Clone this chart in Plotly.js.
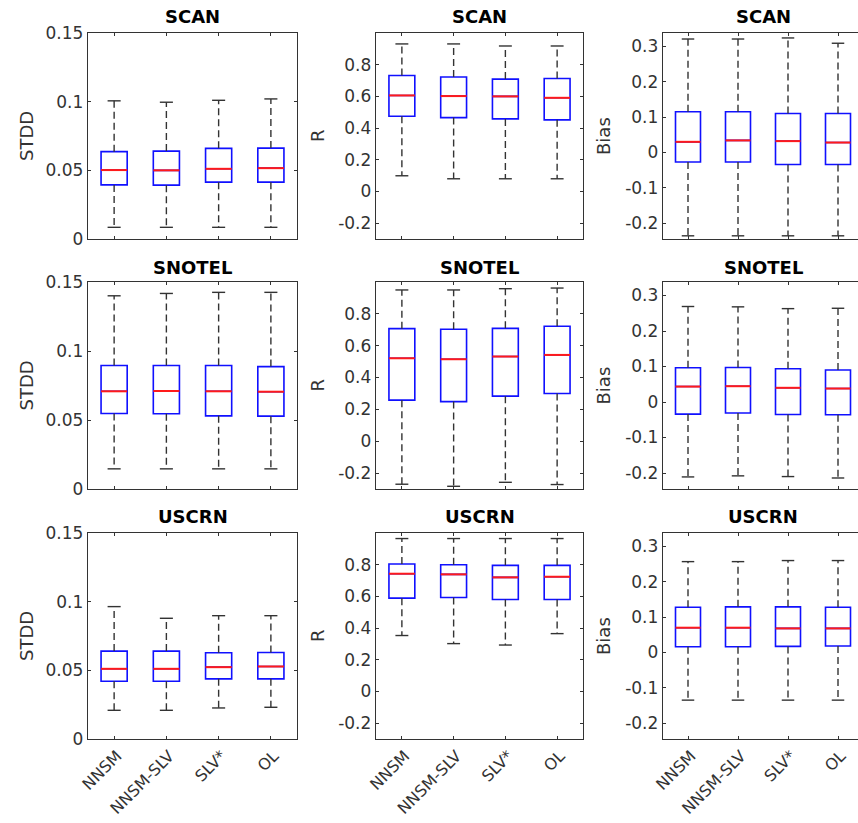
<!DOCTYPE html>
<html><head><meta charset="utf-8">
<script src="https://cdn.plot.ly/plotly-3.0.1.min.js"></script>
<style>html,body{margin:0;padding:0;background:#fff}#chart{width:858px;height:823px}</style>
</head><body><div id="chart"></div>
<script>
const categories = ['NNSM', 'NNSM-SLV', 'SLV*', 'OL'];
const networks = ['SCAN', 'SNOTEL', 'USCRN'];
const metrics = ['STDD', 'R', 'Bias'];

// box statistics per category: lower whisker, q1, median, q3, upper whisker
const scanStdd = {lower: [0.0085, 0.0085, 0.0085, 0.0085], q1: [0.0394, 0.0392, 0.0414, 0.0414], median: [0.0502, 0.0500, 0.0511, 0.0516], q3: [0.0636, 0.0640, 0.0660, 0.0662], upper: [0.1006, 0.0996, 0.1010, 0.1020]};
const scanR = {lower: [0.099, 0.080, 0.080, 0.080], q1: [0.475, 0.466, 0.458, 0.452], median: [0.606, 0.602, 0.600, 0.591], q3: [0.732, 0.722, 0.709, 0.713], upper: [0.931, 0.931, 0.918, 0.918]};
const scanBias = {lower: [-0.236, -0.236, -0.236, -0.236], q1: [-0.027, -0.027, -0.034, -0.034], median: [0.030, 0.034, 0.032, 0.028], q3: [0.115, 0.115, 0.110, 0.110], upper: [0.321, 0.321, 0.324, 0.309]};
const snotelStdd = {lower: [0.0146, 0.0146, 0.0146, 0.0146], q1: [0.0547, 0.0545, 0.0530, 0.0528], median: [0.0708, 0.0710, 0.0708, 0.0705], q3: [0.0895, 0.0895, 0.0895, 0.0887], upper: [0.1400, 0.1417, 0.1425, 0.1425]};
const snotelR = {lower: [-0.270, -0.283, -0.258, -0.272], q1: [0.258, 0.249, 0.283, 0.300], median: [0.521, 0.515, 0.532, 0.542], q3: [0.707, 0.703, 0.709, 0.722], upper: [0.950, 0.950, 0.958, 0.962]};
const snotelBias = {lower: [-0.211, -0.208, -0.210, -0.214], q1: [-0.034, -0.031, -0.035, -0.036], median: [0.0435, 0.0445, 0.040, 0.038], q3: [0.0965, 0.0974, 0.0937, 0.090], upper: [0.269, 0.268, 0.263, 0.264]};
const uscrnStdd = {lower: [0.0209, 0.0209, 0.0226, 0.0231], q1: [0.0421, 0.0421, 0.0438, 0.0438], median: [0.0511, 0.0511, 0.0523, 0.0528], q3: [0.0640, 0.0640, 0.0628, 0.0630], upper: [0.0964, 0.0879, 0.0898, 0.0898]};
const uscrnR = {lower: [0.353, 0.302, 0.293, 0.365], q1: [0.589, 0.593, 0.580, 0.580], median: [0.743, 0.739, 0.720, 0.724], q3: [0.804, 0.800, 0.796, 0.796], upper: [0.965, 0.965, 0.965, 0.965]};
const uscrnBias = {lower: [-0.135, -0.135, -0.135, -0.135], q1: [0.016, 0.016, 0.017, 0.018], median: [0.070, 0.070, 0.068, 0.068], q3: [0.128, 0.129, 0.129, 0.128], upper: [0.257, 0.257, 0.260, 0.260]};

const panels = [
  [scanStdd, scanR, scanBias],
  [snotelStdd, snotelR, snotelBias],
  [uscrnStdd, uscrnR, uscrnBias]
];

// y-axis tick values / labels per metric column
const yTickVals = [[0, 0.05, 0.1, 0.15], [-0.2, 0, 0.2, 0.4, 0.6, 0.8], [-0.2, -0.1, 0, 0.1, 0.2, 0.3]];
const yTickText = [['0', '0.05', '0.1', '0.15'], ['-0.2', '0', '0.2', '0.4', '0.6', '0.8'], ['-0.2', '-0.1', '0', '0.1', '0.2', '0.3']];

// ---- layout geometry (pixels) ----
const W = 858, H = 823;
const colLeft = [88, 376, 663], colRight = [297, 583, 858], colFullRight = [297, 583, 863];
const rowTop = [33, 282, 533], rowBottom = [239, 489, 739];
const yRanges = [[0, 0.15], [-0.3, 1.0], [-0.245, 0.338]];
const yTitleX = [26, 317, 603];
const titleY = [16, 267, 516];

const FONT = 'DejaVu Sans, Liberation Sans, sans-serif';
const AX = '#333333';
const BOXW = 0.5, CAPW = 0.25;

const xpos = categories.map((c, i) => i + 1);
const traces = [];
const layout = {
  width: W, height: H, margin: {l: 0, r: 0, t: 0, b: 0},
  paper_bgcolor: '#fff', plot_bgcolor: '#fff', showlegend: false,
  font: {family: FONT, size: 17, color: AX},
  annotations: []
};

for (let r = 0; r < 3; r++) {
  for (let c = 0; c < 3; c++) {
    const n = r * 3 + c + 1;
    const s = panels[r][c];
    const xa = 'x' + n, ya = 'y' + n;

    const wx = [], wy = [], cx = [], cy = [], mx = [], my = [];
    xpos.forEach((x, i) => {
      wx.push(x, x, null, x, x, null);
      wy.push(s.q3[i], s.upper[i], null, s.q1[i], s.lower[i], null);
      cx.push(x - CAPW / 2, x + CAPW / 2, null, x - CAPW / 2, x + CAPW / 2, null);
      cy.push(s.upper[i], s.upper[i], null, s.lower[i], s.lower[i], null);
      mx.push(x - BOXW / 2, x + BOXW / 2, null);
      my.push(s.median[i], s.median[i], null);
    });
    // dashed whiskers
    traces.push({type: 'scatter', mode: 'lines', x: wx, y: wy, xaxis: xa, yaxis: ya,
      line: {color: AX, width: 1.4, dash: '7px,4px'}, hoverinfo: 'skip'});
    // whisker caps
    traces.push({type: 'scatter', mode: 'lines', x: cx, y: cy, xaxis: xa, yaxis: ya,
      line: {color: AX, width: 1.4}, hoverinfo: 'skip'});
    // boxes
    traces.push({type: 'box', orientation: 'v', x: xpos, q1: s.q1, median: s.median, q3: s.q3,
      lowerfence: s.q1, upperfence: s.q3, width: BOXW, whiskerwidth: 0, boxpoints: false,
      line: {color: '#1010ff', width: 1.6}, fillcolor: 'rgba(0,0,0,0)',
      xaxis: xa, yaxis: ya, hoverinfo: 'skip'});
    // red medians
    traces.push({type: 'scatter', mode: 'lines', x: mx, y: my, xaxis: xa, yaxis: ya,
      line: {color: '#ff1a1a', width: 2}, hoverinfo: 'skip'});

    const xRangeMax = 0.5 + 4 * (colRight[c] - colLeft[c]) / (colFullRight[c] - colLeft[c]);
    layout['xaxis' + n] = {
      domain: [colLeft[c] / W, colRight[c] / W], range: [0.5, xRangeMax], anchor: ya,
      tickmode: 'array', tickvals: xpos, ticktext: categories, showticklabels: r === 2,
      tickangle: -45, tickfont: {family: FONT, size: 16, color: AX},
      ticklabelshift: 3, ticklabeloverflow: 'allow',
      ticks: 'inside', ticklen: 3, tickcolor: AX, showline: true, linecolor: AX, linewidth: 1.3,
      mirror: 'ticks', showgrid: false, zeroline: false, fixedrange: true
    };
    layout['yaxis' + n] = {
      domain: [1 - rowBottom[r] / H, 1 - rowTop[r] / H], range: yRanges[c], anchor: xa,
      tickmode: 'array', tickvals: yTickVals[c], ticktext: yTickText[c],
      tickfont: {family: FONT, size: 17, color: AX},
      ticks: 'inside', ticklen: 3, tickcolor: AX, showline: true, linecolor: AX, linewidth: 1.3,
      mirror: c === 2 ? false : 'ticks', showgrid: false, zeroline: false, fixedrange: true
    };

    // subplot title
    layout.annotations.push({xref: 'paper', yref: 'paper',
      x: (colLeft[c] + colFullRight[c]) / 2 / W, y: 1 - titleY[r] / H,
      xanchor: 'center', yanchor: 'middle', showarrow: false,
      text: '<b>' + networks[r] + '</b>', font: {family: FONT, size: 18, color: '#000'}});
    // y-axis title
    layout.annotations.push({xref: 'paper', yref: 'paper',
      x: yTitleX[c] / W, y: 1 - (rowTop[r] + rowBottom[r]) / 2 / H,
      xanchor: 'center', yanchor: 'middle', showarrow: false, textangle: -90,
      text: metrics[c], font: {family: FONT, size: 18, color: AX}});
  }
}

Plotly.newPlot('chart', traces, layout, {displayModeBar: false, staticPlot: true});
</script>
</body></html>
